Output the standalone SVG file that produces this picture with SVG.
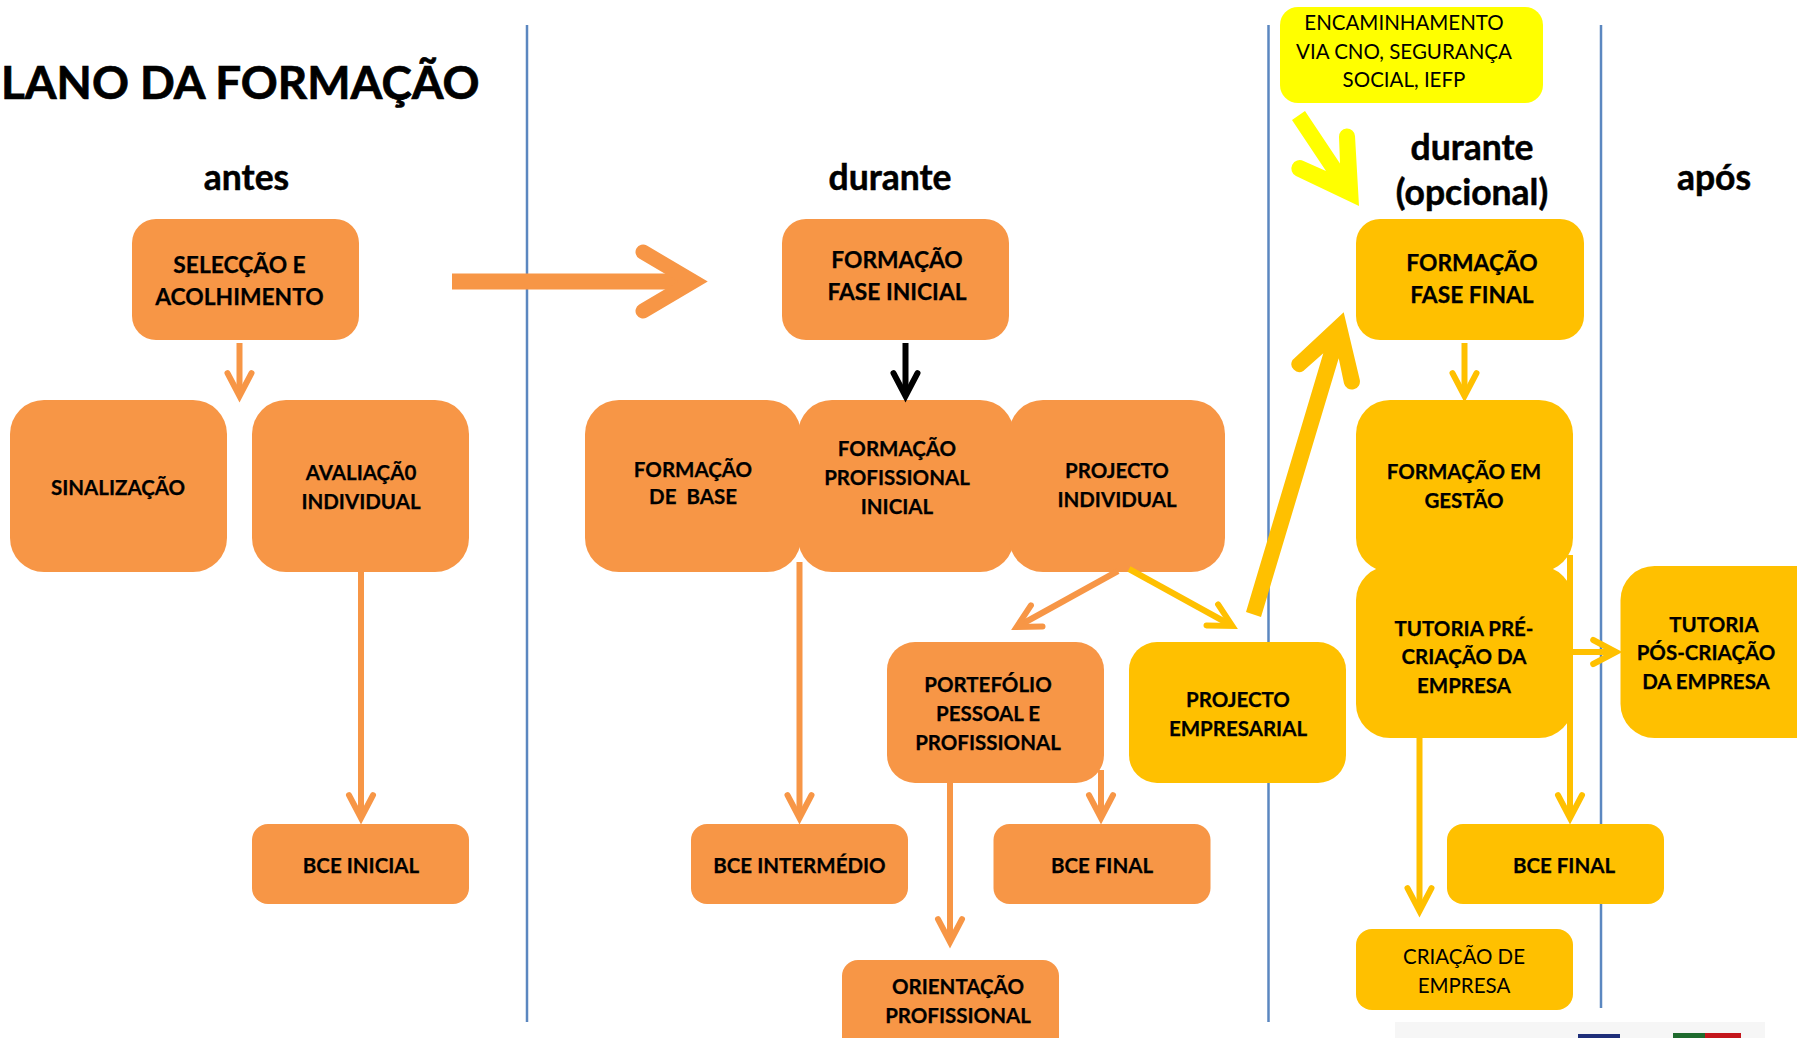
<svg xmlns="http://www.w3.org/2000/svg" width="1797" height="1038" viewBox="0 0 1797 1038">
<style>
text{font-family:Lato,"Open Sans","Liberation Sans",sans-serif;fill:#000;text-anchor:middle;font-size:20.500px;font-weight:700;stroke:#000;stroke-width:.25px}
.r{font-weight:400;stroke:none}
.t{font-size:22.800px}
.h{font-size:35.500px;stroke-width:.5px}
.o{fill:#f79646}
.g{fill:#ffc000}
.y{fill:#ff0}
.v{stroke:#5b87c0;stroke-width:2.5;fill:none}
.co,.cg,.ck{fill:none;stroke-width:6}
.co{stroke:#f79646;marker-end:url(#mo)}
.cg{stroke:#ffc000;marker-end:url(#mg)}
.ck{stroke:#000;marker-end:url(#mk)}
.b{fill:none;stroke-linecap:round;stroke-linejoin:miter;stroke-miterlimit:6}
</style>
<defs>
<marker id="mo" markerWidth="10" markerHeight="10" refX="-1" refY="0" orient="auto" overflow="visible"><path d="M-3.8,-2 L0,0 L-3.8,2" fill="none" stroke="#f79646" stroke-width="1" stroke-linecap="round"/></marker>
<marker id="mg" markerWidth="10" markerHeight="10" refX="-1" refY="0" orient="auto" overflow="visible"><path d="M-3.8,-2 L0,0 L-3.8,2" fill="none" stroke="#ffc000" stroke-width="1" stroke-linecap="round"/></marker>
<marker id="mk" markerWidth="10" markerHeight="10" refX="-1" refY="0" orient="auto" overflow="visible"><path d="M-3.8,-2 L0,0 L-3.8,2" fill="none" stroke="#000" stroke-width="1" stroke-linecap="round"/></marker>
</defs>
<rect width="1797" height="1038" fill="#fff"/>
<g id="dividers">
<path class="v" d="M527,25V1022"/>
<path class="v" d="M1268.500,25V1022"/>
<path class="v" d="M1601,25V1008"/>
</g>
<g id="headings">
<text x="1" y="99" style="text-anchor:start;font-size:45.800px;stroke-width:.7px">LANO DA FORMAÇÃO</text>
<text class="h" x="246.500" y="190">antes</text>
<text class="h" x="890" y="190">durante</text>
<text class="h" x="1472" y="160">durante</text>
<text class="h" x="1472" y="205">(opcional)</text>
<text class="h" x="1714" y="190">após</text>
</g>
<g id="n-seleccao"><rect class="o" x="132" y="219" width="227" height="121" rx="24"/><text class="t" x="239.500" y="273">SELECÇÃO E</text><text class="t" x="239.500" y="305">ACOLHIMENTO</text></g>
<g id="n-sinalizacao"><rect class="o" x="10" y="400" width="217" height="172" rx="34"/><text x="118" y="495">SINALIZAÇÃO</text></g>
<g id="n-avaliacao"><rect class="o" x="252" y="400" width="217" height="172" rx="34"/><text x="361" y="480">AVALIAÇÃ0</text><text x="361" y="509">INDIVIDUAL</text></g>
<g id="n-bce-inicial"><rect class="o" x="252" y="824" width="217" height="80" rx="16"/><text x="361" y="873">BCE INICIAL</text></g>
<g id="n-fase-inicial"><rect class="o" x="782" y="219" width="227" height="121" rx="24"/><text class="t" x="897" y="268">FORMAÇÃO</text><text class="t" x="897" y="300">FASE INICIAL</text></g>
<g id="n-base"><rect class="o" x="585" y="400" width="216" height="172" rx="34"/><text x="693" y="477">FORMAÇÃO</text><text x="693" y="504" xml:space="preserve">DE  BASE</text></g>
<g id="n-prof-inicial"><rect class="o" x="798" y="400" width="216" height="172" rx="34"/><text x="897" y="456">FORMAÇÃO</text><text x="897" y="485">PROFISSIONAL</text><text x="897" y="514">INICIAL</text></g>
<g id="n-proj-individual"><rect class="o" x="1009" y="400" width="216" height="172" rx="34"/><text x="1117" y="478">PROJECTO</text><text x="1117" y="507">INDIVIDUAL</text></g>
<g id="n-portefolio"><rect class="o" x="887" y="642" width="217" height="141" rx="28"/><text x="988" y="692">PORTEFÓLIO</text><text x="988" y="721">PESSOAL E</text><text x="988" y="750">PROFISSIONAL</text></g>
<g id="n-proj-empresarial"><rect class="g" x="1129" y="642" width="217" height="141" rx="28"/><text x="1238" y="707">PROJECTO</text><text x="1238" y="736">EMPRESARIAL</text></g>
<g id="n-bce-intermedio"><rect class="o" x="691" y="824" width="217" height="80" rx="16"/><text x="799.500" y="873">BCE INTERMÉDIO</text></g>
<g id="n-bce-final"><rect class="o" x="993.500" y="824" width="217" height="80" rx="16"/><text x="1102" y="873">BCE FINAL</text></g>
<g id="n-orientacao"><rect class="o" x="842" y="960" width="217" height="110" rx="16"/><text x="958" y="994">ORIENTAÇÃO</text><text x="958" y="1023">PROFISSIONAL</text></g>
<g id="n-encaminhamento"><rect class="y" x="1280" y="7" width="263" height="96" rx="18"/><text class="r" x="1404" y="30">ENCAMINHAMENTO</text><text class="r" x="1404" y="59">VIA CNO, SEGURANÇA</text><text class="r" x="1404" y="87">SOCIAL, IEFP</text></g>
<g id="n-fase-final"><rect class="g" x="1356" y="219" width="228" height="121" rx="24"/><text class="t" x="1472" y="271">FORMAÇÃO</text><text class="t" x="1472" y="303">FASE FINAL</text></g>
<g id="n-gestao"><rect class="g" x="1356" y="400" width="217" height="172" rx="34"/><text x="1464" y="479">FORMAÇÃO EM</text><text x="1464" y="508">GESTÃO</text></g>
<g id="n-tutoria-pre"><rect class="g" x="1356" y="566" width="217" height="172" rx="34"/><text x="1464" y="636">TUTORIA PRÉ-</text><text x="1464" y="664">CRIAÇÃO DA</text><text x="1464" y="693">EMPRESA</text></g>
<g id="n-tutoria-pos"><rect class="g" x="1620.500" y="566" width="217" height="172" rx="34"/><text x="1714" y="632">TUTORIA</text><text x="1706" y="660">PÓS-CRIAÇÃO</text><text x="1706" y="689">DA EMPRESA</text></g>
<g id="n-bce-final-2"><rect class="g" x="1447" y="824" width="217" height="80" rx="16"/><text x="1564" y="873">BCE FINAL</text></g>
<g id="n-criacao"><rect class="g" x="1356" y="929" width="217" height="81" rx="16"/><text class="r" x="1464" y="964">CRIAÇÃO DE</text><text class="r" x="1464" y="993">EMPRESA</text></g>
<g id="connectors">
<path class="co" d="M239.500,343V390"/>
<path class="co" d="M361,572V812"/>
<path d="M452,281.500H690" stroke="#f79646" stroke-width="16" fill="none"/>
<path class="b" d="M643,252L693,281.500L643,311" stroke="#f79646" stroke-width="15"/>
<path class="ck" d="M905.500,343V390"/>
<path class="co" d="M799.500,562V812"/>
<path class="co" d="M1118,571L1022,624"/>
<path class="cg" d="M1129,569L1227,623"/>
<path d="M1246,612L1323.300,353.300L1303.300,371A8,8 0 0 1 1292.500,360L1343.700,312.300L1359.700,379.500A8,8 0 0 1 1344,383.500L1338.700,358.300L1261,617Z" fill="#ffc000"/>
<path d="M1292,120L1305,111L1340,163.500L1339,137A8,8 0 0 1 1355,136L1359,206L1296,176A8,8 0 0 1 1303.500,161L1326,171Z" fill="#ff0"/>
<path class="cg" d="M1464.500,343V390"/>
<path class="cg" d="M1570,555V812"/>
<path class="cg" d="M1572,652H1610"/>
<path class="cg" d="M1419.500,738V905"/>
<path class="co" d="M1101,770V812"/>
<path class="co" d="M950,783V936"/>
</g>
<g id="logo-fragments">
<rect x="1395" y="1022" width="370" height="16" fill="#eeeeee" opacity="0.5"/>
<rect x="1578" y="1034" width="42" height="4" fill="#1f2f7a"/>
<rect x="1673" y="1033" width="36" height="5" fill="#1f6b2e"/>
<rect x="1705" y="1033" width="36" height="5" fill="#c4161c"/>
</g>
</svg>
